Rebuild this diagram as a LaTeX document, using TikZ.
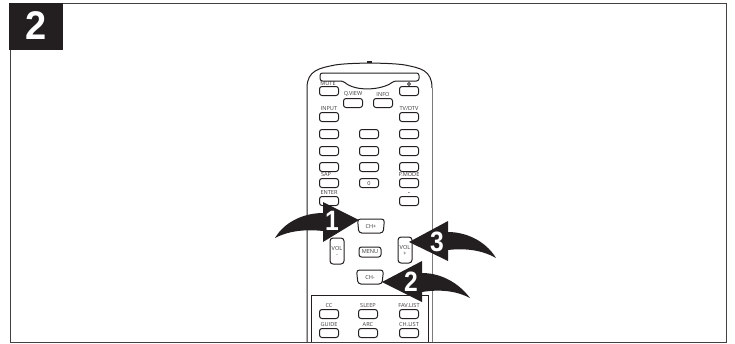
\documentclass[tikz,border=0pt]{standalone}
\usepackage{fontspec}
\setmainfont{Liberation Sans}
\newfontfamily\keyfont{Open Sans}
\usetikzlibrary{positioning, shapes.geometric}
\definecolor{inkblack}{RGB}{35,31,32}
\definecolor{keygray}{RGB}{60,60,60}
\newcommand{\slimdigit}[1]{\scalebox{0.88}[1]{#1}}
\tikzset{
  badge/.style={
    rectangle, minimum width=54pt, minimum height=47pt, fill=inkblack,
    text=white, font=\fontsize{40}{40}\selectfont\bfseries, inner sep=0pt
  },
  keybox/.style={
    rectangle, rounded corners=2.5pt, minimum width=19pt, minimum height=9pt,
    draw=inkblack, line width=1pt, fill=white, inner sep=0pt, text=keygray,
    font=\keyfont\fontsize{5.6}{6}\selectfont, align=center
  },
  keylabel/.style={
    text=keygray, font=\keyfont\fontsize{5.6}{6}\selectfont, inner sep=0pt,
    above=1pt
  },
  chbox/.style={
    keybox, trapezium, shape border rotate=180, trapezium angle=82,
    trapezium stretches=true, minimum width=27pt, minimum height=14pt,
    rounded corners=3pt
  },
  volbox/.style={keybox, minimum width=14pt, minimum height=26pt, rounded corners=3pt},
  callout/.style={fill=inkblack, draw=none},
  stepnum/.style={
    text=white, inner sep=0pt, font=\fontsize{28}{28}\selectfont\bfseries
  },
  frameline/.style={draw=inkblack!85, line width=1pt},
  bodyline/.style={draw=inkblack, line width=1pt}
}
\begin{document}
\begin{tikzpicture}[x=1pt,y=-1pt]
  \useasboundingbox (0,0) rectangle (735,343);

  % frame and badge
  \draw[frameline] (10,3) rectangle (726.5,342);
  \node[badge] (badge) at (36,26.5) {\raisebox{2pt}{\scalebox{0.95}[1]{2}}};

  % remote body
  \draw[bodyline] (307,342) -- (307,88)
    .. controls (307,70) and (320,68) .. (335,65)
    .. controls (350,62.5) and (390,62.5) .. (405,65)
    .. controls (420,68) and (432,70) .. (432,88);
  \draw[bodyline, draw=inkblack!60] (432,88) -- (432,342);
  \fill[inkblack] (367,60.5) rectangle (372,63);
  \draw[bodyline, rounded corners=2.5pt] (320,73) -- (419,73) -- (419,81) -- (394,81)
    .. controls (382,90) and (356,92) .. (343,81) -- (320,81) -- cycle;
  \draw[bodyline] (311,342) |- (428,295.5) -- (428,342);

  % top keys
  \node[keybox] (mute) at (329,91) {};
  \node[keylabel, yshift=-1pt, xshift=-1pt] at (mute.north) {MUTE};
  \node[keybox] (power) at (409,91) {};
  \node[circle, draw=keygray, line width=0.8pt, minimum size=3pt, inner sep=0pt] (powermark) at (409,84) {};
  \node[keybox] (qview) at (353,103) {};
  \node[keylabel] at (qview.north) {Q.VIEW};
  \node[keybox] (info) at (383,103) {};
  \node[keylabel] at (info.north) {INFO};
  \node[keybox] (input) at (329,117) {};
  \node[keylabel] at (input.north) {INPUT};
  \node[keybox] (tvdtv) at (409,117) {};
  \node[keylabel] at (tvdtv.north) {TV/DTV};

  % number keys
  \node[keybox] (numa) at (329,134) {};
  \node[keybox] (numb) at (369,134) {};
  \node[keybox] (numc) at (409,134) {};
  \node[keybox] (numd) at (329,151) {};
  \node[keybox] (nume) at (369,151) {};
  \node[keybox] (numf) at (409,151) {};
  \node[keybox] (numg) at (329,167) {};
  \node[keybox] (numh) at (369,167) {};
  \node[keybox] (numi) at (409,167) {};
  \node[keybox] (sap) at (329,183) {};
  \node[keylabel, xshift=-3pt] at (sap.north) {SAP};
  \node[keybox] (zero) at (369,183) {0};
  \node[keybox] (pmode) at (409,183) {};
  \node[keylabel] at (pmode.north) {P.MODE};
  \node[keybox] (enter) at (329,201) {};
  \node[keylabel] at (enter.north) {ENTER};
  \node[keybox] (dash) at (409,201) {};
  \node[keylabel] at (dash.north) {\bfseries -};

  % channel and volume keys
  \node[chbox] (chup) at (371,226) {CH+};
  \node[volbox] (voldown) at (337,251) {VOL\\-};
  \node[keybox, minimum width=22pt, minimum height=10pt] (menu) at (370,252) {MENU};
  \node[volbox] (volup) at (405,250) {VOL\\+};
  \node[chbox] (chdown) at (370,277) {CH-};

  % lower panel keys
  \node[keybox] (cc) at (329,314) {};
  \node[keylabel] at (cc.north) {CC};
  \node[keybox] (sleep) at (368,314) {};
  \node[keylabel] at (sleep.north) {SLEEP};
  \node[keybox] (favlist) at (409,314) {};
  \node[keylabel] at (favlist.north) {FAV.LIST};
  \node[keybox] (guide) at (329,333) {};
  \node[keylabel] at (guide.north) {GUIDE};
  \node[keybox] (arc) at (368,333) {};
  \node[keylabel] at (arc.north) {ARC};
  \node[keybox] (chlist) at (409,333) {};
  \node[keylabel] at (chlist.north) {CH.LIST};

  % callouts
  \fill[callout] (275,238) .. controls (285,221) and (305,213) .. (323,213)
    -- (323,202) -- (359,220) -- (323,242) -- (323,231)
    .. controls (305,229) and (288,231) .. (275,238) -- cycle;
  \fill[callout] (496,258) .. controls (485,240) and (465,232) .. (448,232)
    -- (448,221) -- (409,242) -- (448,261) -- (448,250)
    .. controls (465,248) and (482,250) .. (496,258) -- cycle;
  \fill[callout] (470,298) .. controls (458,282) and (440,273) .. (422,273)
    -- (422,261) -- (382,282) -- (422,302) -- (422,292)
    .. controls (440,289) and (457,291) .. (470,298) -- cycle;
  \node[stepnum] (one) at (332,221) {\slimdigit{1}};
  \node[stepnum] (three) at (437,242) {\slimdigit{3}};
  \node[stepnum] (two) at (411,282) {\slimdigit{2}};
\end{tikzpicture}
\end{document}
